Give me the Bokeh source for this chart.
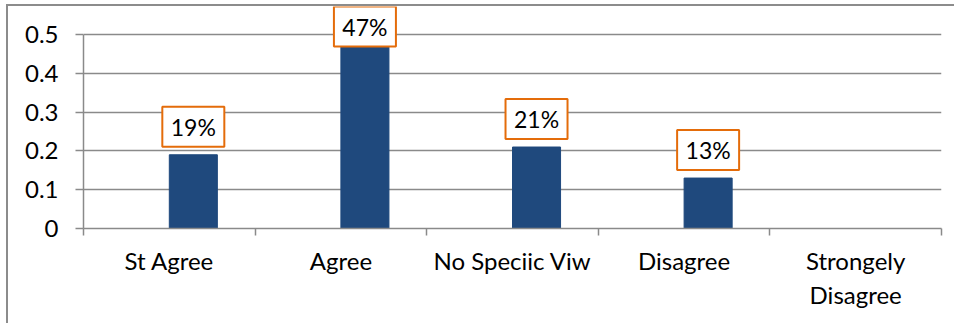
from bokeh.plotting import figure
from bokeh.models import Range1d, FixedTicker, ColumnDataSource
from bokeh.core.properties import value
from bokeh.embed import file_html
from bokeh.resources import INLINE

# Survey responses (share of respondents)
categories = ["St Agree", "Agree", "No Speciic Viw", "Disagree", "Strongely\nDisagree"]
shares = [0.19, 0.47, 0.21, 0.13, None]
share_labels = ["19%", "47%", "21%", "13%", None]
y_ticks = [0, 0.1, 0.2, 0.3, 0.4, 0.5]

FONT = "Lato"
GRID = "#8a8a8a"
BAR = "#1F497D"
ORANGE = "#E46C0A"

frame_w, frame_h = 858, 222
left, right, top, bottom = 75, 15, 0, 97
px_per_unit = 388.0
y_end = frame_h / px_per_unit

p = figure(width=left + frame_w + right, height=top + frame_h + bottom,
           output_backend="svg", toolbar_location=None,
           x_range=Range1d(0, len(categories)), y_range=Range1d(0, y_end),
           min_border_left=left, min_border_right=right,
           min_border_top=top, min_border_bottom=bottom)
p.outline_line_color = None
p.background_fill_color = "white"
p.border_fill_color = "white"
# chart area border (left and top edges)
p.margin = (4, 0, 0, 6)
p.styles = {"border-left": "2px solid #8c8c8c", "border-top": "2px solid #8c8c8c"}

# bars sit in the right half of each category slot
bar_w = 0.28
xs, tops, labels = [], [], []
for i, (v, lab) in enumerate(zip(shares, share_labels)):
    if v is None:
        continue
    xs.append(i + 0.5 + bar_w / 2)
    tops.append(v)
    labels.append(lab)
p.vbar(x=xs, top=tops, width=bar_w, fill_color=BAR, line_color=BAR)

# value callouts: boxed labels above each bar, kept inside the chart
box_w, box_h, gap = 62, 40, 8
ymax_center = y_end - (box_h / 2) / px_per_unit
centers = [min(t + (gap + box_h / 2) / px_per_unit, ymax_center) for t in tops]
src = ColumnDataSource(dict(x=xs, y=centers, text=labels))
p.rect(x="x", y="y", width=box_w, height=box_h, width_units="screen",
       height_units="screen", source=src, fill_color="white",
       line_color=ORANGE, line_width=2)
p.text(x="x", y="y", text="text", source=src, text_align="center",
       text_baseline="middle", text_font=value(FONT), text_font_size="23px",
       text_color="black")

# y axis
ya = p.yaxis[0]
ya.ticker = FixedTicker(ticks=y_ticks)
ya.bounds = (0, max(y_ticks))
ya.axis_line_color = GRID
ya.axis_line_width = 1.5
ya.major_tick_line_color = GRID
ya.major_tick_line_width = 1.5
ya.major_tick_out = 8
ya.major_tick_in = 0
ya.minor_tick_line_color = None
ya.major_label_standoff = 17
ya.major_label_text_font = FONT
ya.major_label_text_font_size = "24px"
ya.major_label_text_color = "black"
ya.major_label_overrides = {0: "0"}

# x axis: labels at slot centres, ticks on slot boundaries
xa = p.xaxis[0]
centers_x = [i + 0.5 for i in range(len(categories))]
xa.ticker = FixedTicker(ticks=centers_x, minor_ticks=list(range(len(categories) + 1)))
xa.major_label_overrides = {c: name for c, name in zip(centers_x, categories)}
xa.axis_line_color = GRID
xa.axis_line_width = 1.5
xa.major_tick_line_color = None
xa.major_tick_out = 7
xa.major_tick_in = 0
xa.minor_tick_line_color = GRID
xa.minor_tick_line_width = 1.5
xa.minor_tick_out = 7
xa.minor_tick_in = 0
xa.major_label_standoff = 10
xa.major_label_text_font = FONT
xa.major_label_text_font_size = "24px"
xa.major_label_text_color = "black"

p.xgrid.grid_line_color = None
p.ygrid.ticker = FixedTicker(ticks=y_ticks)
p.ygrid.grid_line_color = GRID
p.ygrid.grid_line_width = 1.5

open("out.html", "w").write(file_html(p, INLINE))
